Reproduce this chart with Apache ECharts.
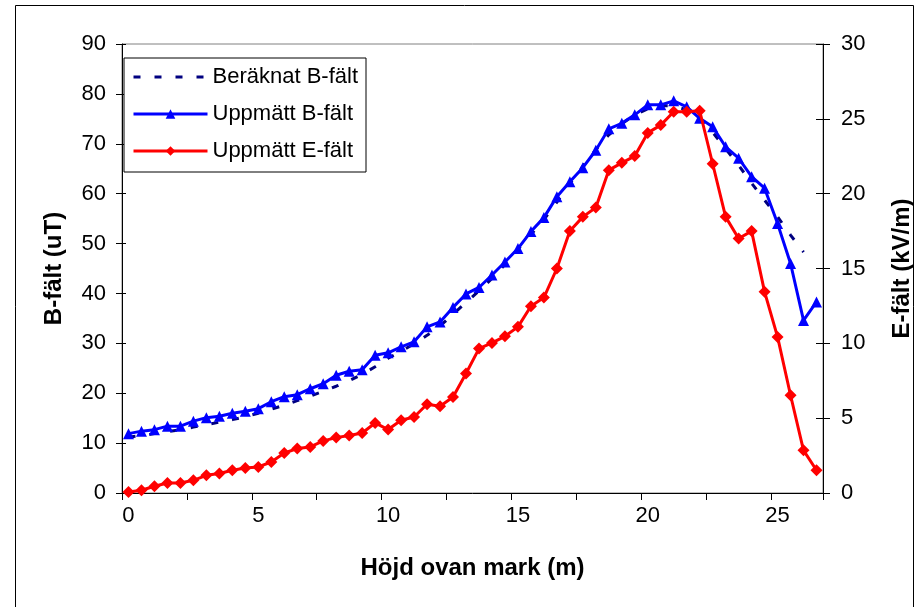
<!DOCTYPE html>
<html>
<head>
<meta charset="utf-8">
<script src="https://cdn.jsdelivr.net/npm/echarts@6/dist/echarts.min.js"></script>
<style>
html,body{margin:0;padding:0;background:#fff;}
#chart{width:922px;height:607px;}
</style>
</head>
<body>
<div id="chart"></div>
<script>
// Height above ground (m), one category per 0.5 m
const heights = ['0','0.5','1','1.5','2','2.5','3','3.5','4','4.5','5','5.5','6','6.5','7','7.5','8','8.5','9','9.5',
  '10','10.5','11','11.5','12','12.5','13','13.5','14','14.5','15','15.5','16','16.5','17','17.5','18','18.5','19','19.5',
  '20','20.5','21','21.5','22','22.5','23','23.5','24','24.5','25','25.5','26','26.5'];

// Beräknat B-fält (uT)
const calcB = [11.2,11.5,11.9,12.3,12.7,13.2,13.7,14.2,14.7,15.3,16.0,16.8,17.6,18.5,19.4,20.4,21.4,22.5,23.8,25.3,
  27.0,28.4,29.9,31.6,33.5,35.8,38.2,40.5,43.0,45.8,48.8,51.8,54.8,58.3,62.0,65.5,68.8,71.8,74.0,75.8,
  77.0,77.6,77.6,76.8,75.0,72.3,69.0,65.7,62.1,58.7,55.4,51.7,48.3,null];

// Uppmätt B-fält (uT)
const measB = [11.9,12.4,12.7,13.4,13.4,14.4,15.1,15.4,16.0,16.4,16.9,18.3,19.3,19.7,20.9,21.9,23.6,24.4,24.7,27.6,
  28.1,29.3,30.3,33.3,34.3,37.2,39.9,41.2,43.7,46.3,49.0,52.4,55.2,59.4,62.4,65.2,68.7,73.0,74.1,75.8,
  77.8,77.8,78.6,77.4,75.1,73.4,69.4,67.1,63.4,61.1,54.0,46.0,34.6,38.3];

// Uppmätt E-fält (kV/m)
const measE = [0.07,0.18,0.45,0.67,0.67,0.85,1.18,1.30,1.52,1.67,1.74,2.07,2.67,2.97,3.08,3.48,3.70,3.84,4.01,4.68,
  4.24,4.86,5.08,5.93,5.80,6.42,7.98,9.65,10.03,10.47,11.10,12.48,13.06,15.00,17.51,18.45,19.07,21.57,22.06,22.51,
  24.06,24.58,25.47,25.47,25.54,22.00,18.45,17.00,17.50,13.44,10.43,6.53,2.85,1.52];

const seriesNames = ['Beräknat B-fält','Uppmätt B-fält','Uppmätt E-fält'];
const xTitle = 'Höjd ovan mark (m)';
const yLeftTitle = 'B-fält (uT)';
const yRightTitle = 'E-fält (kV/m)';

const FONT = '"Liberation Sans", Arial, sans-serif';
const chart = echarts.init(document.getElementById('chart'), null, {renderer:'canvas'});

const tickLabel = {color:'#000', fontFamily:FONT, fontSize:22};
const titleStyle = {color:'#000', fontFamily:FONT, fontSize:24, fontWeight:'bold'};
const dashType = [7,14];

chart.setOption({
  animation:false,
  backgroundColor:'#fff',
  graphic:[{
    type:'rect', z:-10, silent:true,
    shape:{x:15.5, y:5.5, width:898, height:700},
    style:{fill:'none', stroke:'#000', lineWidth:1}
  }],
  grid:{left:122, top:44, width:703, height:449, show:true, borderColor:'#808080', borderWidth:1, backgroundColor:'#fff', containLabel:false},
  legend:{
    orient:'vertical', left:124, top:58,
    data:[
      {name:seriesNames[0], itemStyle:{opacity:0}, lineStyle:{width:3, type:dashType, color:'#000080'}},
      {name:seriesNames[1], lineStyle:{width:3}},
      {name:seriesNames[2], lineStyle:{width:3}}
    ],
    itemWidth:74, itemHeight:12, itemGap:15,
    padding:[8,8,10,8],
    borderColor:'#000', borderWidth:1, backgroundColor:'#fff',
    textStyle:{color:'#000', fontFamily:FONT, fontSize:22},
    z:10
  },
  xAxis:[{
    type:'category', data:heights, boundaryGap:true, position:'bottom',
    name:xTitle, nameLocation:'middle', nameGap:63, nameTextStyle:titleStyle,
    axisLine:{show:true, lineStyle:{color:'#000', width:1}},
    axisTick:{show:true, inside:false, length:7, interval:4, alignWithLabel:false, lineStyle:{color:'#000'}},
    axisLabel:Object.assign({interval:9, margin:12}, tickLabel),
    splitLine:{show:false}
  }],
  yAxis:[{
    type:'value', position:'left', min:0, max:90, interval:10,
    name:yLeftTitle, nameLocation:'middle', nameRotate:90, nameGap:56, nameTextStyle:titleStyle,
    axisLine:{show:true, lineStyle:{color:'#000', width:1}},
    axisTick:{show:true, inside:false, length:6, lineStyle:{color:'#000'}},
    axisLabel:Object.assign({margin:16}, tickLabel),
    splitLine:{show:false}
  },{
    type:'value', position:'right', min:0, max:30, interval:5,
    name:yRightTitle, nameLocation:'middle', nameRotate:90, nameGap:67, nameTextStyle:titleStyle,
    axisLine:{show:true, lineStyle:{color:'#000', width:1}},
    axisTick:{show:true, inside:false, length:7, lineStyle:{color:'#000'}},
    axisLabel:Object.assign({margin:18}, tickLabel),
    splitLine:{show:false}
  },{
    type:'value', position:'left', min:0, max:90, interval:10,
    axisLine:{show:false},
    axisTick:{show:true, inside:true, length:4, lineStyle:{color:'#000'}},
    axisLabel:{show:false}, splitLine:{show:false}
  },{
    type:'value', position:'right', min:0, max:30, interval:5,
    axisLine:{show:false},
    axisTick:{show:true, inside:true, length:7, lineStyle:{color:'#000'}},
    axisLabel:{show:false}, splitLine:{show:false}
  }],
  series:[{
    name:seriesNames[0], type:'line', xAxisIndex:0, yAxisIndex:0, data:calcB,
    symbol:'none', showSymbol:false, connectNulls:false,
    lineStyle:{color:'#000080', width:3, type:dashType},
    itemStyle:{color:'#000080'}, z:2
  },{
    name:seriesNames[1], type:'line', xAxisIndex:0, yAxisIndex:0, data:measB,
    symbol:'triangle', symbolSize:11, showSymbol:true, showAllSymbol:true,
    lineStyle:{color:'#0000FF', width:3},
    itemStyle:{color:'#0000FF', borderWidth:0}, z:3
  },{
    name:seriesNames[2], type:'line', xAxisIndex:0, yAxisIndex:1, data:measE,
    symbol:'diamond', symbolSize:[12,12], showSymbol:true, showAllSymbol:true,
    lineStyle:{color:'#FF0000', width:3},
    itemStyle:{color:'#FF0000', borderWidth:0}, z:4
  }]
});
</script>
</body>
</html>
